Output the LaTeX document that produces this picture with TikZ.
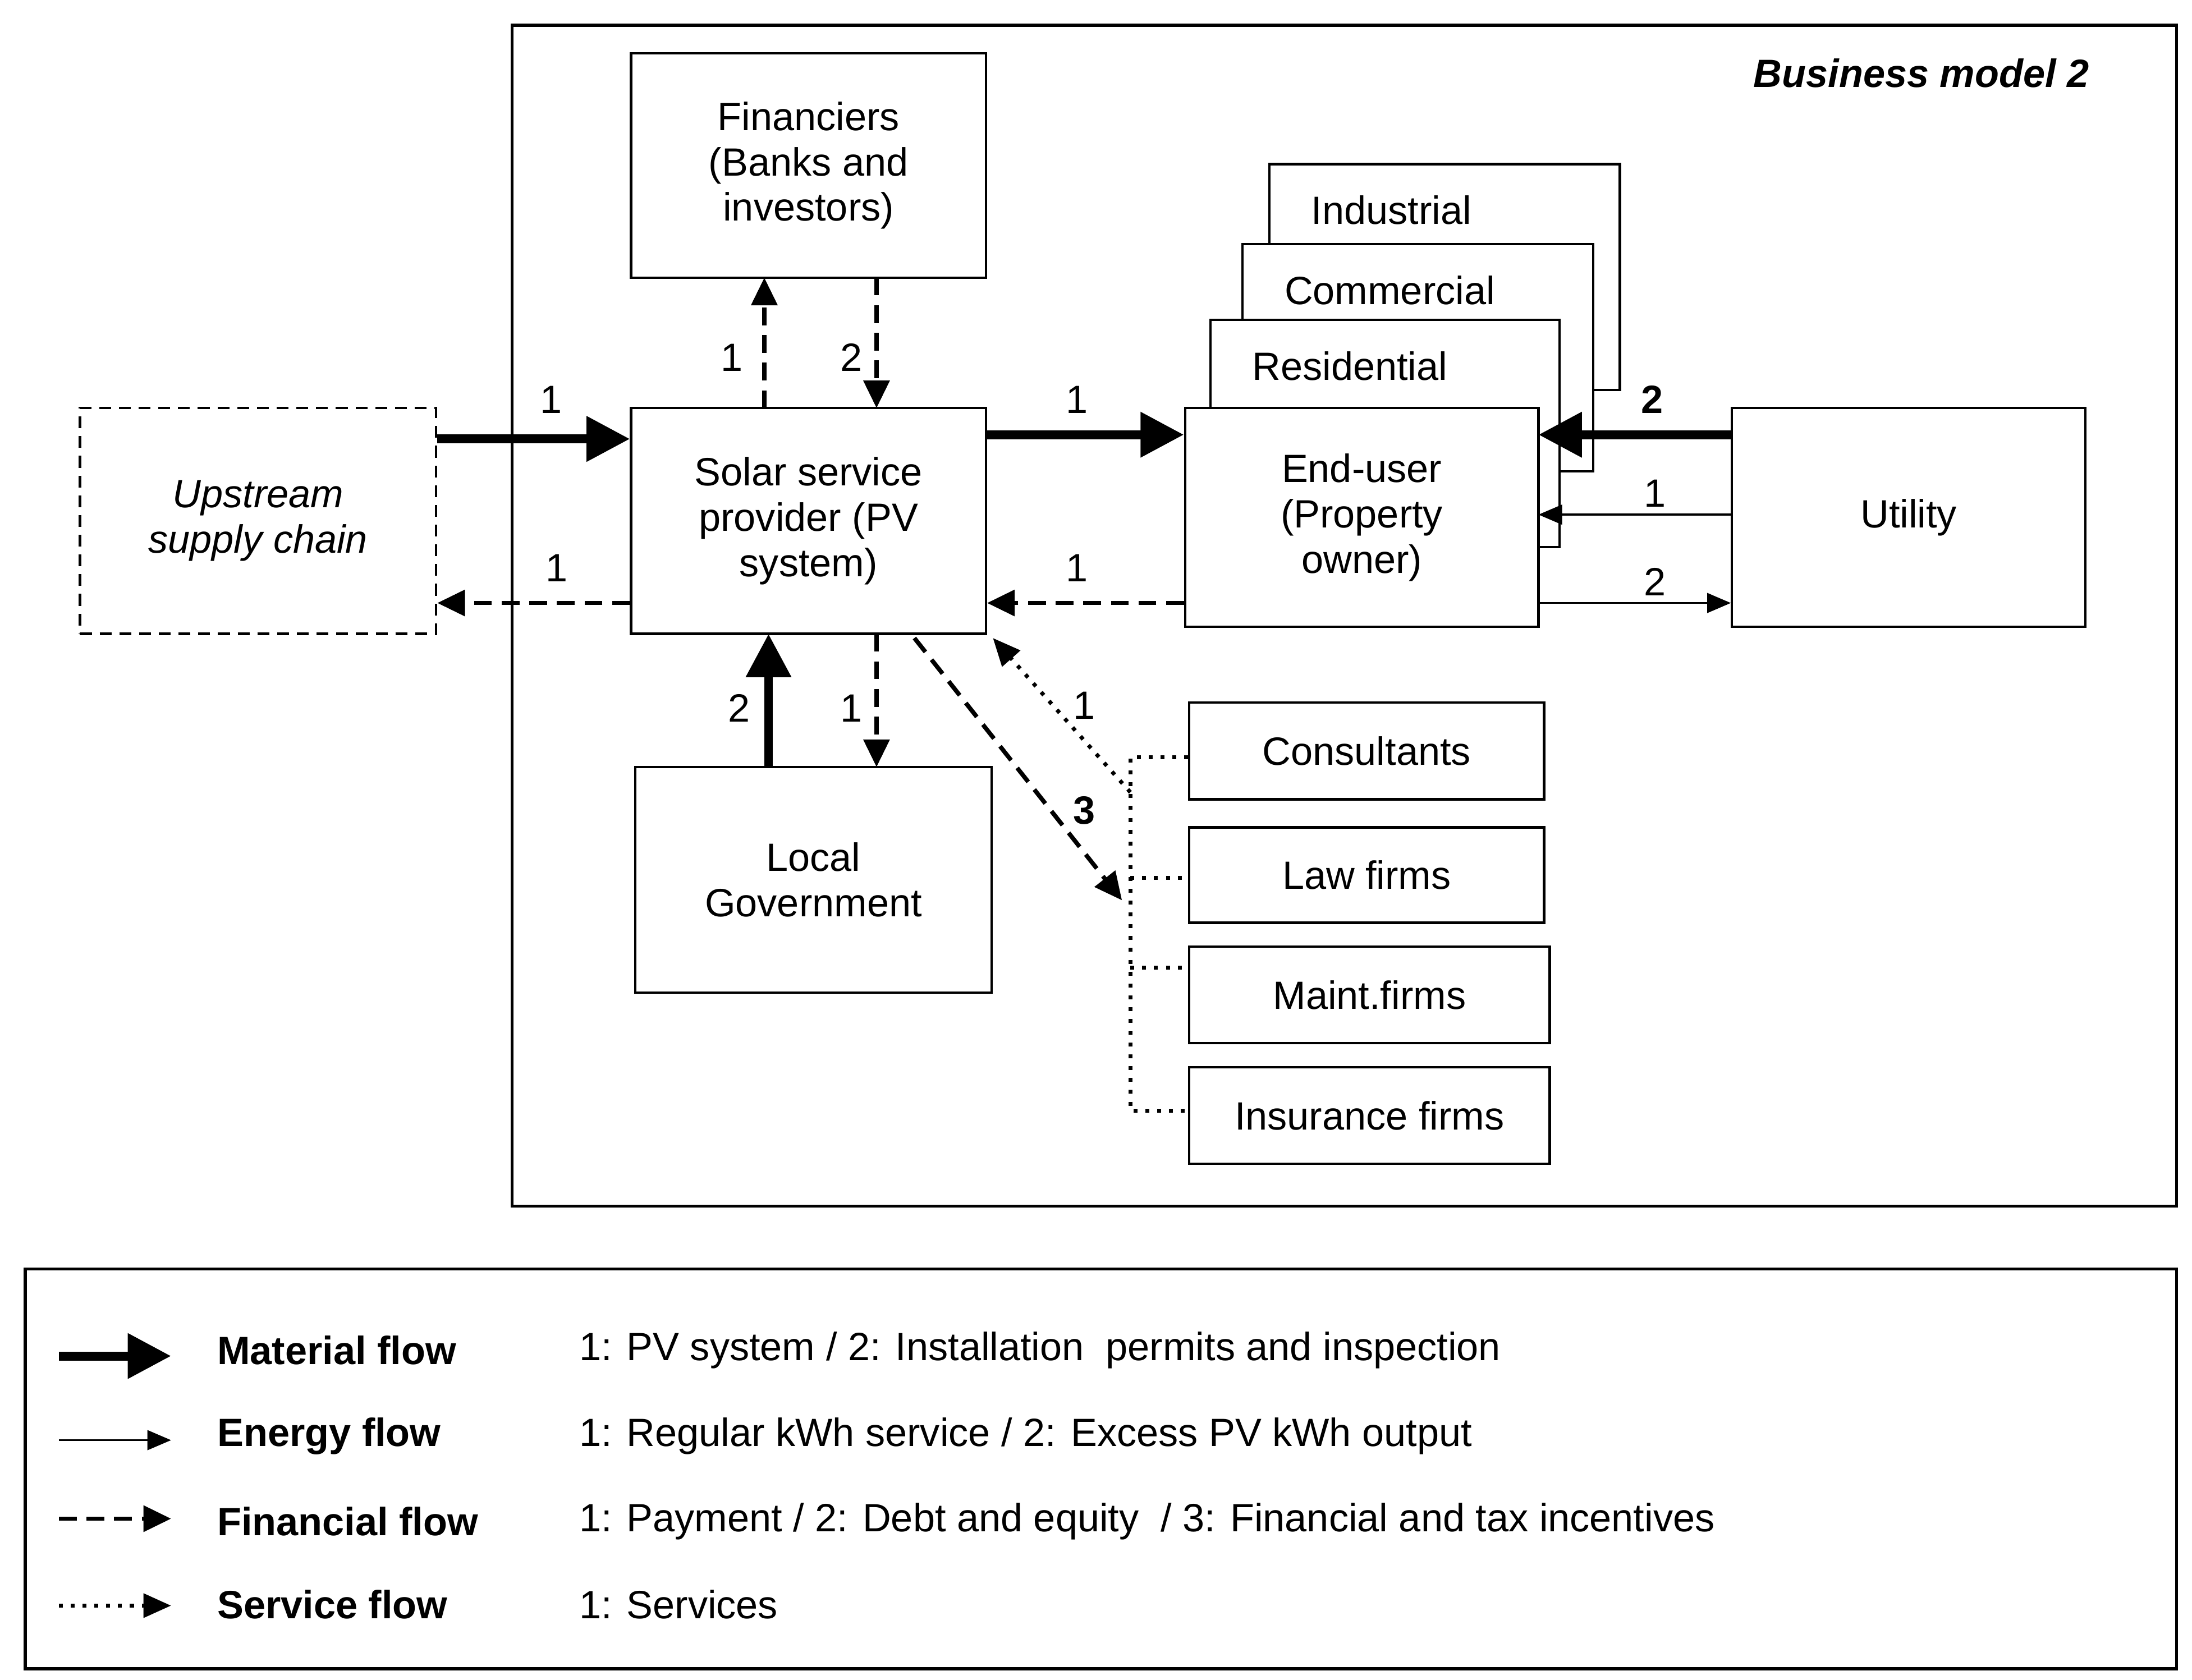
\documentclass[tikz,border=0pt]{standalone}
\usepackage{fontspec}
\setmainfont{Liberation Sans}
\usetikzlibrary{arrows.meta}
\tikzset{
  box/.style={draw,line width=1.2pt,align=center,inner sep=0pt},
  lbl/.style={font=\fontsize{20}{23}\selectfont},
  dots/.style={line width=2pt,dash pattern=on 2pt off 4pt},
  material/.style={line width=4.5pt,-{Triangle[length=22pt,width=22pt]}},
  energy/.style={line width=1pt,-{Triangle[length=12pt,width=10pt]}},
  financial/.style={line width=2.2pt,dash pattern=on 9pt off 5pt,-{Triangle[length=14pt,width=13pt]}},
  service/.style={dots,-{Triangle[length=14pt,width=12pt]}}
}
\begin{document}
\begin{tikzpicture}[x=0.025cm,y=-0.025cm,lbl]
\useasboundingbox (0,0) rectangle (1563,1198);
\draw[line width=1.5pt] (365,18) rectangle (1552,860);
\draw[line width=1.5pt] (18,905) rectangle (1552,1190);
\node[font=\fontsize{20}{23}\selectfont\bfseries\itshape] at (1370,52) {Business model 2};
% stacked end-user boxes
\draw[box,fill=white] (905,117) rectangle (1155,278);
\node[anchor=west] at (930,150) {Industrial};
\draw[box,fill=white] (886,174) rectangle (1136,336);
\node[anchor=west] at (911,207) {Commercial};
\draw[box,fill=white] (863,228) rectangle (1112,390);
\node[anchor=west] at (888,261) {Residential};
% main boxes
\node[box,minimum width=253*0.025cm,minimum height=160*0.025cm] (fin) at (576.5,118) {Financiers\\(Banks and\\investors)};
\node[box,minimum width=253*0.025cm,minimum height=161*0.025cm] (ssp) at (576.5,371.5) {Solar service\\provider (PV\\system)};
\node[box,dash pattern=on 6pt off 4pt,minimum width=254*0.025cm,minimum height=161*0.025cm,font=\fontsize{20}{23}\selectfont\itshape] (up) at (184,371.5) {Upstream\\supply chain};
\node[box,minimum width=254*0.025cm,minimum height=161*0.025cm] (gov) at (580,627.5) {Local\\Government};
\node[box,fill=white,minimum width=252*0.025cm,minimum height=156*0.025cm] (eu) at (971,369) {End-user\\(Property\\owner)};
\node[box,minimum width=252*0.025cm,minimum height=156*0.025cm] (ut) at (1361,369) {Utility};
\node[box,minimum width=253*0.025cm,minimum height=69*0.025cm] (con) at (974.5,535.5) {Consultants};
\node[box,minimum width=253*0.025cm,minimum height=68*0.025cm] (law) at (974.5,624) {Law firms};
\node[box,minimum width=257*0.025cm,minimum height=69*0.025cm] (mnt) at (976.5,709.5) {Maint.firms};
\node[box,minimum width=257*0.025cm,minimum height=69*0.025cm] (ins) at (976.5,795.5) {Insurance firms};
% service bracket
\coordinate (bt) at (806,540);
\coordinate (bb) at (806,792);
\coordinate (bs) at (806,565);
\draw[dots] (bt -| con.west) -- (bt) -- (bb) -- (bb -| ins.west);
\draw[dots] (806,626) -- (law.west |- 0,626);
\draw[dots] (806,690) -- (mnt.west |- 0,690);
\draw[service] (bs) -- (708,455);
\node at (773,503) {1};
% flows
\draw[material] (up.east |- 0,313) -- (ssp.west |- 0,313);
\node at (393,285) {1};
\draw[financial] (ssp.west |- 0,430) -- (up.east |- 0,430);
\node at (397,405) {1};
\draw[financial] (545,291) -- (545,198);
\node at (522,255) {1};
\draw[financial] (625,198) -- (625,291);
\node at (607,255) {2};
\draw[material] (ssp.east |- 0,310) -- (eu.west |- 0,310);
\node at (768,285) {1};
\draw[financial] (eu.west |- 0,430) -- (ssp.east |- 0,430);
\node at (768,405) {1};
\draw[material] (548,547) -- (548,452);
\node at (527,505) {2};
\draw[financial] (625,452) -- (625,547);
\node at (607,505) {1};
\coordinate (fe) at (800,642);
\draw[financial] (652,455) -- (fe);
\node[font=\fontsize{20}{23}\selectfont\bfseries] at (773,578) {3};
\draw[material] (ut.west |- 0,310) -- (1097,310);
\node[font=\fontsize{20}{23}\selectfont\bfseries] at (1178,285) {2};
\draw[energy] (ut.west |- 0,367) -- (1097,367);
\node at (1180,352) {1};
\draw[energy] (eu.east |- 0,430) -- (ut.west |- 0,430);
\node at (1180,415) {2};
% legend
\coordinate (m0) at (42,967); \coordinate (m1) at (122,967);
\coordinate (e0) at (42,1027); \coordinate (e1) at (122,1027);
\coordinate (f0) at (42,1083); \coordinate (f1) at (122,1083);
\coordinate (s0) at (42,1145); \coordinate (s1) at (122,1145);
\draw[material] (m0) -- (m1);
\draw[energy] (e0) -- (e1);
\draw[financial] (f0) -- (f1);
\draw[service] (s0) -- (s1);
\foreach \y/\n/\d in {963/Material flow/{1: PV system / 2: Installation\ \ permits\ and inspection},
  1024/Energy flow/{1: Regular kWh service / 2: Excess PV kWh output},
  1085/Financial flow/{1: Payment / 2: Debt and equity\ \ / 3: Financial and tax incentives},
  1144/Service flow/{1: Services}}{
  \node[anchor=west,font=\fontsize{20}{23}\selectfont\bfseries] at (150,\y) {\n};
  \node[anchor=west] at (408,\y) {\d};
}
\end{tikzpicture}
\end{document}
